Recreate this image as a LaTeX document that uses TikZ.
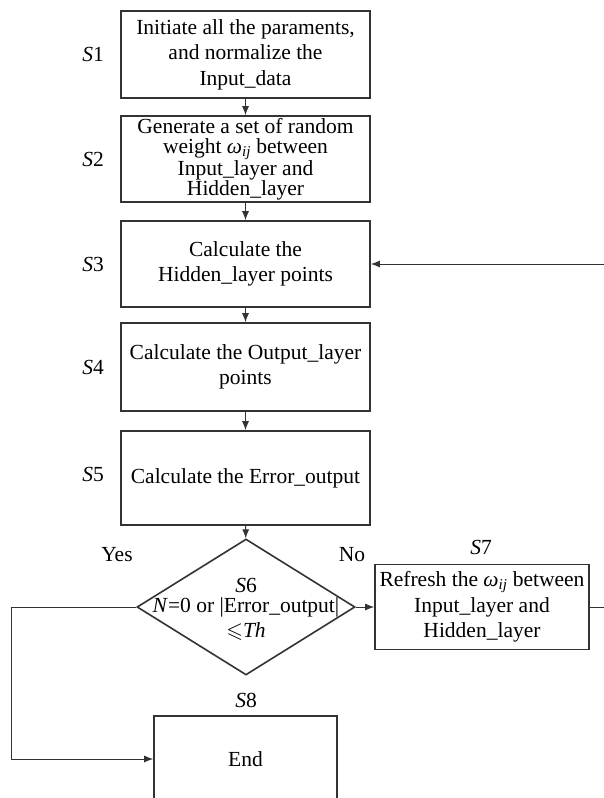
\documentclass[tikz,border=0pt]{standalone}
\usepackage{amssymb}
\usepackage{fontspec}
\setmainfont{Liberation Serif}
\usetikzlibrary{arrows.meta,positioning,shapes.geometric}

\begin{document}
\begin{tikzpicture}[x=1pt, y=-1pt,
  every node/.style={font=\fontsize{21.5}{25.5}\selectfont},
  stepbox/.style={draw=black!80, line width=1.6pt, minimum width=249pt, align=center, inner sep=2pt},
  decision/.style={diamond, draw=black!80, line width=1.6pt, aspect=1.6, minimum width=218pt,
                   minimum height=136pt, inner sep=0pt},
  arrow/.style={-{Latex[length=9pt,width=7pt]}, line width=1pt, draw=black!80},
  tag/.style={align=center}
]
\clip (0,0) rectangle (604,798);

\node[stepbox, minimum height=87pt] (init) at (245.5,54.5) {Initiate all the paraments,\\and normalize the\\Input\_data};
\node[stepbox, minimum height=86pt, font=\fontsize{21.5}{20}\selectfont] (weight) at (245.5,159)
  {Generate a set of random\\weight \textit{ω}\textsubscript{\textit{ij}} between\\Input\_layer and\\Hidden\_layer};
\node[stepbox, minimum height=86pt] (hidden) at (245.5,264) {Calculate the\\Hidden\_layer points};
\node[stepbox, minimum height=88pt] (output) at (245.5,367) {Calculate the Output\_layer\\points};
\node[stepbox, minimum height=94pt] (error) at (245.5,478) {Calculate the Error\_output};
\node[decision] (judge) at (246,607) {};
\node[tag] (judgetxt) at (246,619) {\textit{N}=0 or |Error\_output|\\$\leqslant$\textit{Th}};
\node[stepbox, minimum width=214pt, minimum height=85pt] (refresh) at (482,607)
  {Refresh the \textit{ω}\textsubscript{\textit{ij}} between\\Input\_layer and\\Hidden\_layer};
\node[stepbox, minimum width=183pt, minimum height=86pt] (finish) at (245.5,759) {End};

\node (s1) at (93,54.5) {\textit{S}1};
\node (s2) at (93,159) {\textit{S}2};
\node (s3) at (93,264) {\textit{S}3};
\node (s4) at (93,367) {\textit{S}4};
\node (s5) at (93,474) {\textit{S}5};
\node (s6) at (246,585) {\textit{S}6};
\node (s7) at (481,547) {\textit{S}7};
\node (s8) at (246,700) {\textit{S}8};
\node (yes) at (117,555) {Yes};
\node (no) at (352,555) {No};

\coordinate (loopR) at (606,607);
\coordinate (loopL) at (11,607);

\draw[arrow] (init) -- (weight);
\draw[arrow] (weight) -- (hidden);
\draw[arrow] (hidden) -- (output);
\draw[arrow] (output) -- (error);
\draw[arrow] (error) -- (judge);
\draw[arrow] (judge.east) -- (refresh.west);
\draw[arrow] (refresh.east) -- (loopR) |- (hidden.east);
\draw[arrow] (judge.west) -- (loopL) |- (finish.west);
\end{tikzpicture}
\end{document}
